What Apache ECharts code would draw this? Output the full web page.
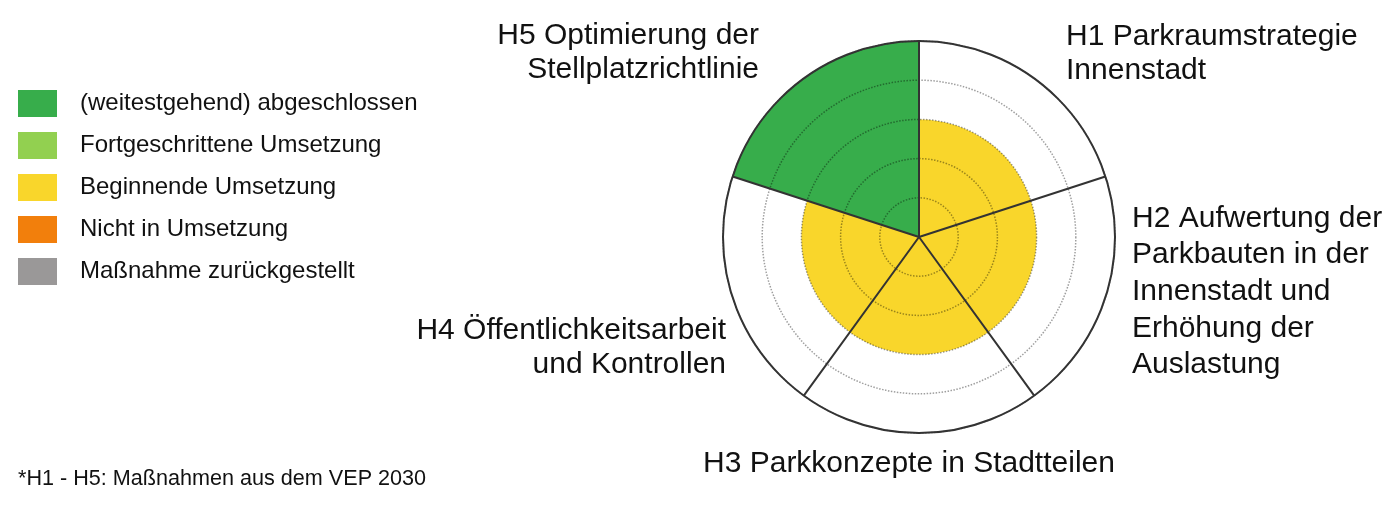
<!DOCTYPE html>
<html>
<head>
<meta charset="utf-8">
<script src="https://cdn.jsdelivr.net/npm/echarts@6/dist/echarts.min.js"></script>
<style>
  html, body { margin: 0; padding: 0; background: #fff; }
  #main { width: 1400px; height: 506px; }
</style>
</head>
<body>
<div id="main"></div>
<script>
// Maßnahmen H1 - H5 (angle categories, clockwise from top)
var categories = ['H1', 'H2', 'H3', 'H4', 'H5'];
var categoryLabels = [
    'H1 Parkraumstrategie\nInnenstadt',
    'H2 Aufwertung der\nParkbauten in der\nInnenstadt und\nErhöhung der\nAuslastung',
    'H3 Parkkonzepte in Stadtteilen',
    'H4 Öffentlichkeitsarbeit\nund Kontrollen',
    'H5 Optimierung der\nStellplatzrichtlinie'
];
// Umsetzungsstand (radius, 0..5) and status index per Maßnahme
var levels = [3, 3, 3, 3, 5];
var statusOf = [2, 2, 2, 2, 0];

var statusNames = [
    '(weitestgehend) abgeschlossen',
    'Fortgeschrittene Umsetzung',
    'Beginnende Umsetzung',
    'Nicht in Umsetzung',
    'Maßnahme zurückgestellt'
];
var statusColors = ['#37ad4b', '#92d050', '#f9d62b', '#f27f0c', '#9a9898'];
var footnote = '*H1 - H5: Maßnahmen aus dem VEP 2030';

var FONT = '"Liberation Sans", Arial, sans-serif';

var series = statusNames.map(function (name, s) {
    return {
        name: name,
        type: 'bar',
        coordinateSystem: 'polar',
        stack: 'stand',
        barCategoryGap: '0%',
        itemStyle: { color: statusColors[s] },
        data: levels.map(function (v, i) { return statusOf[i] === s ? v : null; })
    };
});

// label placement around the circle
var labelPos = [
    { x: 1066, y: 20, align: 'left', lh: 34 },
    { x: 1132, y: 200, align: 'left', lh: 36.7 },
    { x: 703, y: 447, align: 'left', lh: 34 },
    { x: 726, y: 314, align: 'right', lh: 34 },
    { x: 759, y: 19, align: 'right', lh: 34 }
];

var graphics = categoryLabels.map(function (t, i) {
    var p = labelPos[i];
    return {
        type: 'text',
        x: p.x,
        y: p.y,
        style: {
            text: t,
            fill: '#111',
            font: '30px ' + FONT,
            lineHeight: p.lh,
            textAlign: p.align,
            textVerticalAlign: 'top'
        }
    };
});
graphics.push({
    type: 'text',
    x: 18,
    y: 479,
    style: {
        text: footnote,
        fill: '#111',
        font: '21.6px ' + FONT,
        textAlign: 'left',
        textVerticalAlign: 'middle'
    }
});

var myChart = echarts.init(document.getElementById('main'));
myChart.setOption({
    backgroundColor: '#fff',
    animation: false,
    polar: {
        center: [919, 237],
        radius: [0, 196]
    },
    angleAxis: {
        type: 'category',
        data: categories,
        startAngle: 90,
        clockwise: true,
        z: 5,
        axisLine: { lineStyle: { color: '#333', width: 2 } },
        axisTick: { show: false },
        axisLabel: { show: false },
        splitLine: { show: true, lineStyle: { color: '#333', width: 2 } }
    },
    radiusAxis: {
        type: 'value',
        min: 0,
        max: 5,
        interval: 1,
        z: 4,
        axisLine: { show: false },
        axisTick: { show: false },
        axisLabel: { show: false },
        splitLine: { show: true, lineStyle: { color: 'rgba(0,0,0,0.38)', width: 1.5, type: 'dotted' } }
    },
    legend: {
        orient: 'vertical',
        left: 18,
        top: 90,
        padding: 0,
        itemWidth: 39,
        itemHeight: 27,
        itemGap: 15,
        icon: 'rect',
        selectedMode: false,
        data: statusNames,
        textStyle: { fontFamily: FONT, fontSize: 24, color: '#111', padding: [0, 0, 0, 18] }
    },
    graphic: graphics,
    series: series
});
</script>
</body>
</html>
